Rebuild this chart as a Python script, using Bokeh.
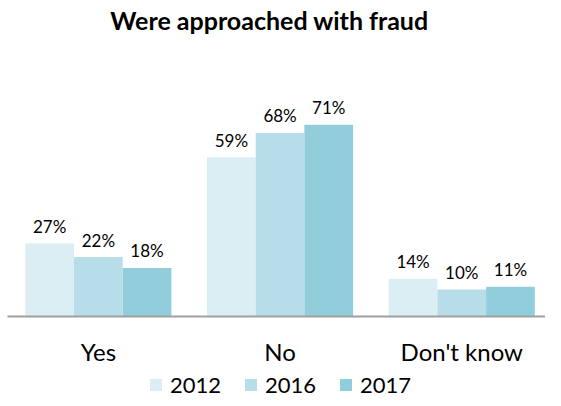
from bokeh.plotting import figure
from bokeh.models import (ColumnDataSource, Range1d, FixedTicker, Legend, LegendItem,
                          LinearAxis, Label)
from bokeh.core.properties import value
from bokeh.embed import file_html
from bokeh.resources import INLINE

categories = ["Yes", "No", "Don't know"]
years = ["2012", "2016", "2017"]
values_2012 = [27, 59, 14]
values_2016 = [22, 68, 10]
values_2017 = [18, 71, 11]
colors = ["#DAEEF3", "#B7DEE8", "#92CDDC"]
title_text = "Were approached with fraud"

FONT = "Lato"
BAR_W = 0.268
offsets = [-BAR_W, 0.0, BAR_W]
series = [values_2012, values_2016, values_2017]

W, H = 545, 398
CAT_PX = 181.7
PX_PER_UNIT = 2.7
BASE_Y = 316  # baseline, px from the top of the figure

p = figure(width=W, height=H, output_backend="svg", toolbar_location=None,
           x_range=Range1d(-7 / CAT_PX, (W - 7) / CAT_PX),
           y_range=Range1d(-(H - BASE_Y) / PX_PER_UNIT, BASE_Y / PX_PER_UNIT),
           x_axis_location=None, y_axis_location=None,
           min_border_left=0, min_border_right=0, min_border_top=0, min_border_bottom=0)
p.outline_line_color = None
p.xgrid.visible = False
p.ygrid.visible = False
p.background_fill_color = "white"
p.border_fill_color = "white"

title = Label(x=269, y=H - 19, x_units="screen", y_units="screen", text=title_text,
              text_font=FONT, text_font_size="25px", text_font_style="bold",
              text_align="center", text_baseline="alphabetic", text_color="#000000")
p.add_layout(title)

xaxis = LinearAxis(ticker=FixedTicker(ticks=[i + 0.5 for i in range(len(categories))]),
                   major_label_overrides={i + 0.5: c for i, c in enumerate(categories)},
                   fixed_location=0, bounds=(0, len(categories)))
xaxis.axis_line_color = "#A0A0A0"
xaxis.axis_line_width = 2
xaxis.major_tick_line_color = None
xaxis.minor_tick_line_color = None
xaxis.major_tick_out = 0
xaxis.major_tick_in = 0
xaxis.major_label_standoff = 20
xaxis.major_label_text_font = FONT
xaxis.major_label_text_font_size = "24px"
xaxis.major_label_text_color = "#000000"
p.add_layout(xaxis, "below")

items = []
for k, (yr, vals, col) in enumerate(zip(years, series, colors)):
    xs = [i + 0.5 + offsets[k] for i in range(len(categories))]
    src = ColumnDataSource(dict(x=xs, top=vals, label=[f"{v}%" for v in vals]))
    r = p.vbar(x="x", top="top", bottom=0, width=BAR_W, source=src,
               fill_color=col, line_color=None)
    p.text(x="x", y="top", text="label", source=src, text_font=value(FONT),
           text_font_size="17px", text_align="center", text_baseline="alphabetic",
           y_offset=-17, text_color="#000000")
    items.append(LegendItem(label=yr, renderers=[r]))

legend = Legend(items=items, orientation="horizontal", location=(148, 0),
                glyph_width=15, glyph_height=15, label_standoff=7, spacing=22,
                padding=0, margin=0, border_line_color=None, label_height=15,
                label_text_font=FONT, label_text_font_size="22px",
                label_text_color="#000000", background_fill_alpha=0)
p.add_layout(legend)

open("out.html", "w").write(file_html(p, INLINE))
